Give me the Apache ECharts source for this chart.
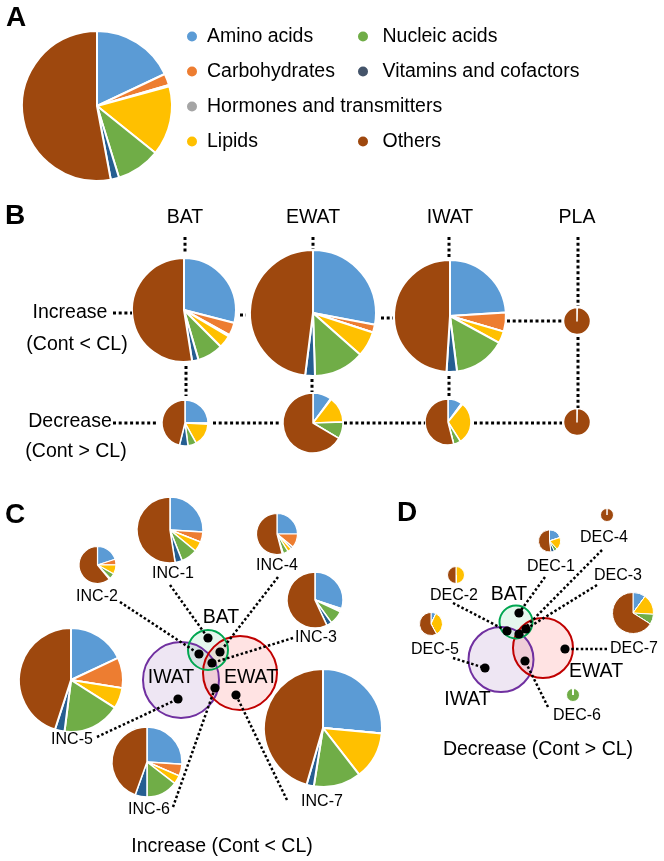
<!DOCTYPE html>
<html><head><meta charset="utf-8">
<script src="https://cdn.jsdelivr.net/npm/echarts@6/dist/echarts.min.js"></script>
<style>html,body{margin:0;padding:0;background:#fff}#c{width:664px;height:861px}</style>
</head><body><div id="c"></div>
<script>
// ---------- DATA (percent of metabolites per class) ----------
const categories = ['Amino acids','Carbohydrates','Hormones and transmitters','Lipids','Nucleic acids','Vitamins and cofactors','Others'];
const allMetabolites = [18, 2.5, 0.3, 15, 9.5, 1.8, 53];
// Panel B: Increase (Cont < CL)
const incBAT  = [29, 4, 0.5, 4, 8, 2, 52.5];
const incEWAT = [28, 2, 0, 6.5, 13, 2.5, 48];
const incIWAT = [24, 5.5, 0, 3.5, 15, 3, 49];
const incPLA  = [0, 0, 0.3, 0, 0, 0, 99.7];
// Panel B: Decrease (Cont > CL)
const decBAT  = [25, 0.8, 0, 16, 6, 6, 46];
const decEWAT = [10, 0.5, 0, 14, 9, 0, 66.5];
const decIWAT = [10, 1, 0, 30, 5, 0, 54];
const decPLA  = [0, 0, 0.3, 0, 0, 0, 99.7];
// Panel C: increase groups
const inc1 = [26, 5, 0, 5, 8, 3.5, 52.5];
const inc2 = [20, 5, 0, 8, 5, 1, 61];
const inc3 = [30, 1, 0, 1, 8, 3, 57];
const inc4 = [25, 11, 2, 3, 4, 1, 54];
const inc5 = [18, 9.5, 0, 6.5, 18, 3, 45];
const inc6 = [26, 5.5, 0, 4, 14.5, 5.5, 44.5];
const inc7 = [26.5, 0, 0, 13, 13, 2, 45.5];
// Panel D: decrease groups
const dec1 = [20, 0, 0, 18, 5, 5, 52];
const dec2 = [0, 0, 0, 50, 0, 0, 50];
const dec4 = [0, 0, 0.3, 0, 0, 0, 99.7];
const dec5 = [7, 0, 0, 35, 0, 0, 58];
const dec6 = [0, 0, 0.3, 0, 99.7, 0, 0];
const dec7 = [10, 0, 0, 16, 8, 0, 66];
// Text labels
const tissueLabels = ['BAT','EWAT','IWAT','PLA'];
const incLabels = ['INC-1','INC-2','INC-3','INC-4','INC-5','INC-6','INC-7'];
const decLabels = ['DEC-1','DEC-2','DEC-3','DEC-4','DEC-5','DEC-6','DEC-7'];

// ---------- STYLE / LAYOUT ----------
const colors = ['#5B9BD5','#ED7D31','#A5A5A5','#FFC000','#70AD47','#255E91','#9E480E'];
const FONT = 'Arial, "Liberation Sans", sans-serif';

function pie(values, cx, cy, r, bw) {
  return {
    type: 'pie', center: [cx, cy], radius: [0, r], startAngle: 90, clockwise: true,
    label: { show: false }, labelLine: { show: false }, emphasis: { disabled: true },
    silent: true, animation: false, minAngle: 0,
    itemStyle: { borderColor: '#fff', borderWidth: bw },
    data: categories.map((n, i) => ({ name: n, value: values[i], itemStyle: { color: colors[i] } }))
  };
}

const series = [
  pie(allMetabolites, 97, 106, 75, 2),
  pie(incBAT, 184, 310, 52, 2), pie(incEWAT, 313, 313, 63, 2), pie(incIWAT, 450, 316, 56, 2), pie(incPLA, 577, 321, 13.5, 1.5),
  pie(decBAT, 185, 423, 23, 1.5), pie(decEWAT, 313, 423, 30, 1.5), pie(decIWAT, 448, 422, 23, 1.5), pie(decPLA, 577, 422, 13.5, 1.5),
  pie(inc1, 170, 530, 33, 1.5), pie(inc2, 97.5, 565, 18.5, 1.2), pie(inc3, 315, 600, 28, 1.5), pie(inc4, 277, 534, 20.5, 1.2),
  pie(inc5, 71, 680, 52, 2), pie(inc6, 147, 762, 35, 1.5), pie(inc7, 323, 728, 59, 2),
  pie(dec1, 549.5, 541, 11, 1), pie(dec2, 456, 575, 8.5, 1), pie(dec4, 607, 515, 6.5, 1),
  pie(dec5, 431, 624, 11.5, 1), pie(dec6, 573, 695, 6.5, 1), pie(dec7, 633, 613, 20.5, 1)
];

const G = [];
function txt(t, x, y, size, opts) {
  G.push(Object.assign({ type: 'text', z: 20, style: { text: t, x: x, y: y, fill: '#000',
    font: (opts && opts.bold ? 'bold ' : '') + size + 'px ' + FONT,
    align: (opts && opts.align) || 'center', verticalAlign: 'middle' } }));
}
function dl(x1, y1, x2, y2, w) {
  w = w || 3;
  G.push({ type: 'line', z: 5, shape: { x1, y1, x2, y2 },
    style: { stroke: '#000', lineWidth: w, lineDash: [w, w * 0.9], lineCap: 'butt' } });
}
function dot(x, y) { G.push({ type: 'circle', z: 15, shape: { cx: x, cy: y, r: 4.6 }, style: { fill: '#000' } }); }
function venn(cx, cy, r, fill, stroke) {
  G.push({ type: 'circle', z: 1, shape: { cx, cy, r }, style: { fill: fill } });
  G.push({ type: 'circle', z: 3, shape: { cx, cy, r }, style: { fill: 'none', stroke: stroke, lineWidth: 2 } });
}

// Panel letters
txt('A', 6, 18, 28, { bold: true, align: 'left' });
txt('B', 5, 216, 28, { bold: true, align: 'left' });
txt('C', 5, 515, 28, { bold: true, align: 'left' });
txt('D', 397, 513, 28, { bold: true, align: 'left' });

// Panel B
txt(tissueLabels[0], 185, 218, 19.5); txt(tissueLabels[1], 313, 218, 19.5);
txt(tissueLabels[2], 450, 218, 19.5); txt(tissueLabels[3], 577, 218, 19.5);
txt('Increase', 70, 313, 19.5); txt('(Cont < CL)', 77, 345, 19.5);
txt('Decrease', 70, 422, 19.5); txt('(Cont > CL)', 76, 452, 19.5);
dl(185, 237, 185, 252); dl(313, 237, 313, 249); dl(449, 237, 449, 258);
dl(578, 237, 578, 306); dl(578, 337, 578, 408);
dl(186, 366, 186, 396); dl(312, 379, 312, 392); dl(449, 376, 449, 396);
dl(113, 313, 132, 313); dl(240, 315, 246, 315); dl(381, 318, 393, 318); dl(507, 321, 562, 321);
dl(113, 423, 158, 423); dl(213, 423, 279, 423); dl(344, 423, 425, 423); dl(474, 423, 562, 423);

// Panel C venn
venn(181, 680, 38, 'rgba(112,48,160,0.12)', '#7030A0');
venn(240, 673, 37, 'rgba(255,0,0,0.11)', '#C00000');
venn(208, 650, 20, 'rgba(0,176,80,0.10)', '#00A650');
txt('BAT', 221, 618, 19.5); txt('IWAT', 171, 678, 19.5); txt('EWAT', 251, 678, 19.5);
const cw = 2.5;
dl(170, 585, 208, 638, cw); dl(120, 602, 199, 654, cw); dl(278, 577, 220, 652, cw); dl(293, 638, 212, 663, cw);
dl(97, 737, 178, 699, cw); dl(173, 807, 215, 688, cw); dl(287, 800, 236, 695, cw);
dot(208, 638); dot(199, 654); dot(220, 652); dot(212, 663); dot(215, 688); dot(236, 695); dot(178, 699);
txt(incLabels[0], 173, 574, 16); txt(incLabels[1], 97, 597, 16); txt(incLabels[2], 316, 638, 16);
txt(incLabels[3], 277, 566, 16); txt(incLabels[4], 72, 740, 16); txt(incLabels[5], 149, 810, 16);
txt(incLabels[6], 322, 802, 16);
txt('Increase (Cont < CL)', 222, 847, 19.5);

// Panel D venn
venn(501, 659.5, 32.5, 'rgba(112,48,160,0.12)', '#7030A0');
venn(543, 648, 30, 'rgba(255,0,0,0.11)', '#C00000');
venn(516, 622, 16.5, 'rgba(0,176,80,0.10)', '#00A650');
txt('BAT', 509, 595, 19.5); txt('EWAT', 596, 672, 19.5); txt('IWAT', 467.5, 700, 19.5);
dl(545, 577, 519, 613, cw); dl(453, 603, 507, 631, cw); dl(602, 550, 519, 634, cw); dl(597, 585, 526, 629, cw);
dl(453, 658, 485, 668, cw); dl(548, 707, 525, 661, cw); dl(607, 649, 565, 649, cw);
dot(519, 613); dot(507, 631); dot(526, 629); dot(519, 634); dot(565, 649); dot(525, 661); dot(485, 668);
txt(decLabels[0], 551, 567, 16); txt(decLabels[1], 454, 596, 16); txt(decLabels[2], 618, 576, 16);
txt(decLabels[3], 604, 538, 16); txt(decLabels[4], 435, 650, 16); txt(decLabels[5], 577, 716, 16);
txt(decLabels[6], 634, 649, 16);
txt('Decrease (Cont > CL)', 538, 750, 19.5);

const legendText = { fontSize: 19.5, lineHeight: 20, color: '#000', fontFamily: FONT };
const legendBase = { orient: 'vertical', padding: 0, itemHeight: 12, itemGap: 15, icon: 'circle',
  selectedMode: false, textStyle: legendText };

const chart = echarts.init(document.getElementById('c'));
chart.setOption({
  animation: false,
  legend: [
    Object.assign({}, legendBase, { left: 185, top: 26.5, itemWidth: 20,
      data: [categories[0], categories[1], categories[2], categories[3]] }),
    Object.assign({}, legendBase, { left: 356, top: 26.5, itemWidth: 29,
      data: [categories[4], { name: categories[5], itemStyle: { color: '#44546A' } }] }),
    Object.assign({}, legendBase, { left: 356, top: 131.5, itemWidth: 29, data: [categories[6]] })
  ],
  series: series,
  graphic: { elements: G }
});
</script></body></html>
